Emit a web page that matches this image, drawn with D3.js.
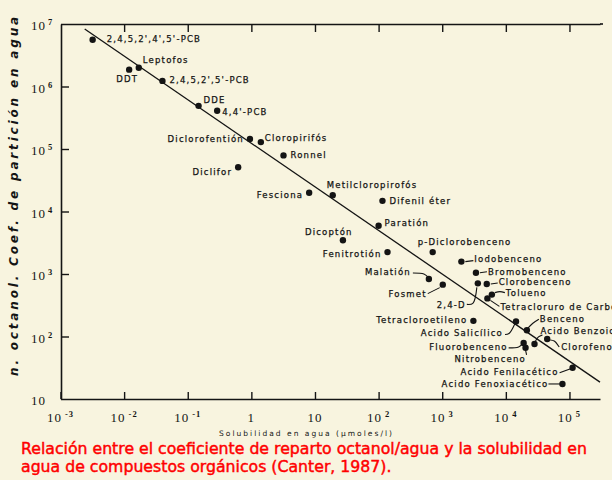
<!DOCTYPE html>
<html><head><meta charset="utf-8">
<script src="https://cdn.jsdelivr.net/npm/d3@7"></script>
<style>html,body{margin:0;padding:0;background:#f8f4df;}svg{display:block;}</style>
</head><body>
<svg id="chart" width="612" height="480"></svg>
<script>
// ---------------- data ----------------
const compounds = ["2,4,5,2',4',5'-PCB","Leptofos","DDT","2,4,5,2',5'-PCB","DDE","4,4'-PCB",
  "Diclorofentión","Cloropirifós","Ronnel","Diclifor","Fesciona","Metilcloropirofós","Difenil éter",
  "Paratión","Dicoptón","Fenitrotión","p-Diclorobenceno","Iodobenceno","Bromobenceno","Malatión",
  "Fosmet","2,4-D","Clorobenceno","Tolueno","Tetracloruro de Carbono","Tetracloroetileno",
  "Acido Salicílico","Benceno","Acido Benzoico","Clorofenol","Fluorobenceno","Nitrobenceno",
  "Acido Fenilacético","Acido Fenoxiacético"];
const solubility = [0.0032,0.017,0.012,0.040,0.148,0.29,0.95,1.41,3.2,0.62,8.1,19,115,100,27.5,138,
  708,2000,3390,617,1020,3630,5010,6030,5130,3090,14450,21400,28200,44700,19050,20400,112000,77600];
const kow = [5.6e6,2.0e6,1.86e6,1.23e6,4.9e5,4.1e5,1.45e5,1.29e5,7.9e4,5.1e4,2.0e4,1.82e4,1.48e4,
  5900,3470,2240,2240,1580,1050,832,676,708,692,468,407,178,174,126,76,91,79,66,31.6,17.4];
const fitSolubility = [0.0024, 302000];
const fitKow = [8.3e6, 18.6];
const xTickValues = [1e-3,1e-2,1e-1,1,10,1e2,1e3,1e4,1e5];
const xTickLabels = [["10","-3"],["10","-2"],["10","-1"],["1",""],["10",""],["10","2"],["10","3"],["10","4"],["10","5"]];
const yTickValues = [10,1e2,1e3,1e4,1e5,1e6,1e7];
const yTickLabels = [["10",""],["10","2"],["10","3"],["10","4"],["10","5"],["10","6"],["10","7"]];
const xTitle = "Solubilidad en agua (μmoles/l)";
const yTitle = "n. octanol. Coef. de partición en agua";
const caption = ["Relación entre el coeficiente de reparto octanol/agua y la solubilidad en",
                 "agua de compuestos orgánicos (Canter, 1987)."];

// ---------------- label layout (offsets from each point) ----------------
const labelLayout = [
  ["s",14,2],["s",4,-4.5],["s",-13,12.5],["s",7,2],["s",5,-3],["s",5,4],["e",-6,3.5],["s",4,-1.5],
  ["s",7,2.5],["e",-6,8],["e",-6,5.5],["s",-6,-7.5],["s",7,3],["s",6,0.5],["s",-38,-5],["e",-6,5],
  ["s",-15,-7],
  ["s",13,0.5,[[4,0],[12,-1]]],
  ["s",12,2.5,[[4,0],[11,-1]]],
  ["e",-18,-4,[[-16,-6],[-5,-5],[-1,-2]]],
  ["e",-16,12.5,[[-15,9],[-3,3]]],
  ["e",-12,24.5,[[-11,21],[-5,20],[-1,4]]],
  ["s",12,1.5,[[4,0],[11,-1]]],
  ["s",14,1.5,[[3,-2],[8,-3],[13,-2]]],
  ["s",13,11.5,[[3,2],[12,8]]],
  ["e",-6,2.5],
  ["e",-13,14.5,[[-11,13],[-7,12],[-1,2]]],
  ["s",13,-8,[[1,-2],[6,-7],[12,-11]]],
  ["s",6,-10,[[1,-3],[4,-7],[8,-9]]],
  ["s",14,11,[[3,1],[7,2],[12,8]]],
  ["e",-16,7.5,[[-15,5],[-5,4],[-1,1]]],
  ["s",-71,14.5,[[0,2],[1,7]]],
  ["e",-14,7,[[-13,5],[-2,1]]],
  ["e",-14,3.5,[[-14,0],[-2,0]]]
];

const ink = "#141414";
const svg = d3.select("#chart");
svg.append("rect").attr("width",612).attr("height",480).attr("fill","#f8f4df");

const x = d3.scaleLog().domain([1e-3, Math.pow(10,5.48)]).range([60.5, 600]);
const y = d3.scaleLog().domain([10, 1e7]).range([399, 24]);

// axes
const gx = svg.append("g").attr("transform","translate(0,399)")
  .call(d3.axisBottom(x).tickValues(xTickValues).tickSizeInner(-7).tickSizeOuter(0).tickFormat(""));
const gt = svg.append("g").attr("transform","translate(0,24)")
  .call(d3.axisTop(x).tickValues(xTickValues.slice(1)).tickSizeInner(-8).tickSizeOuter(0).tickFormat(""));
const gy = svg.append("g").attr("transform","translate(61,0)")
  .call(d3.axisLeft(y).tickValues(yTickValues.slice(1,-1)).tickSizeInner(-8).tickSizeOuter(0).tickFormat(""));
[gx,gt,gy].forEach(g=>{
  g.selectAll("path.domain").attr("stroke",ink).attr("stroke-width",1.6);
  g.selectAll(".tick line").attr("stroke",ink).attr("stroke-width",1.4);
});
svg.append("line").attr("x1",600).attr("x2",603).attr("y1",24).attr("y2",24).attr("stroke",ink).attr("stroke-width",1.6);

// tick labels
const tickFont = "'Liberation Serif','DejaVu Serif',serif";
xTickValues.forEach((v,i)=>{
  const t = svg.append("text").attr("x",x(v)).attr("y",422).attr("text-anchor","middle")
    .attr("font-family",tickFont).attr("font-size",13).attr("letter-spacing",1).attr("fill",ink);
  t.append("tspan").text(xTickLabels[i][0]);
  if (xTickLabels[i][1]) t.append("tspan").attr("dx",3).attr("dy",-5).attr("font-size",8.5).attr("font-weight","bold").text(xTickLabels[i][1]);
});
yTickValues.forEach((v,i)=>{
  const t = svg.append("text").attr("x",31).attr("y",y(v)+6).attr("text-anchor","start")
    .attr("font-family",tickFont).attr("font-size",13).attr("letter-spacing",1).attr("fill",ink);
  t.append("tspan").text(yTickLabels[i][0]);
  if (yTickLabels[i][1]) t.append("tspan").attr("dx",2).attr("dy",-5).attr("font-size",8.5).attr("font-weight","bold").text(yTickLabels[i][1]);
});

function fitSpacing(sel, target){
  const n = sel.text().length;
  const w = sel.node().getComputedTextLength();
  sel.attr("letter-spacing", (target - w) / n);
}

// axis titles
const xt = svg.append("text").attr("x",219).attr("y",436).attr("font-family","'DejaVu Sans',sans-serif")
  .attr("font-size",7.5).attr("fill",ink).text(xTitle);
fitSpacing(xt, 175);
const yt = svg.append("text").attr("transform","translate(18,376) rotate(-90)")
  .attr("font-family","'DejaVu Sans',sans-serif").attr("font-size",12).attr("font-weight","bold")
  .attr("font-style","italic").attr("fill",ink).text(yTitle);
fitSpacing(yt, 362);

// regression line
svg.append("path").datum(d3.zip(fitSolubility, fitKow))
  .attr("d", d3.line().x(d=>x(d[0])).y(d=>y(d[1])))
  .attr("stroke",ink).attr("stroke-width",1.3).attr("fill","none");

// points
const pts = d3.zip(solubility, kow);
svg.append("g").selectAll("circle").data(pts).join("circle")
  .attr("cx",d=>x(d[0])).attr("cy",d=>y(d[1])).attr("r",3.2).attr("fill",ink);

// labels and leaders
const leaderLine = d3.line().curve(d3.curveCatmullRom);
const lg = svg.append("g");
pts.forEach((d,i)=>{
  const px = x(d[0]), py = y(d[1]);
  const L = labelLayout[i];
  if (L[3]) {
    lg.append("path").attr("d", leaderLine(L[3].map(p=>[px+p[0], py+p[1]])))
      .attr("stroke",ink).attr("stroke-width",1.1).attr("fill","none");
  }
  lg.append("text").attr("x",px+L[1]).attr("y",py+L[2])
    .attr("text-anchor", L[0]==="s" ? "start" : "end")
    .attr("font-family","'DejaVu Sans',sans-serif").attr("font-size",8.5)
    .attr("letter-spacing",1.2).attr("fill",ink).attr("stroke",ink).attr("stroke-width",0.25)
    .text(compounds[i]);
});

// caption
const capFont = "'DejaVu Sans',sans-serif";
const c1 = svg.append("text").attr("x",21).attr("y",454).attr("font-family",capFont)
  .attr("font-size",16).attr("fill","#ff0000").attr("stroke","#ff0000").attr("stroke-width",0.45)
  .text(caption[0]);
const w1 = c1.node().getComputedTextLength();
const fs = 16 * 566 / w1;
c1.attr("font-size", fs);
svg.append("text").attr("x",21).attr("y",472).attr("font-family",capFont)
  .attr("font-size",fs).attr("fill","#ff0000").attr("stroke","#ff0000").attr("stroke-width",0.45)
  .text(caption[1]);
</script>
</body></html>
